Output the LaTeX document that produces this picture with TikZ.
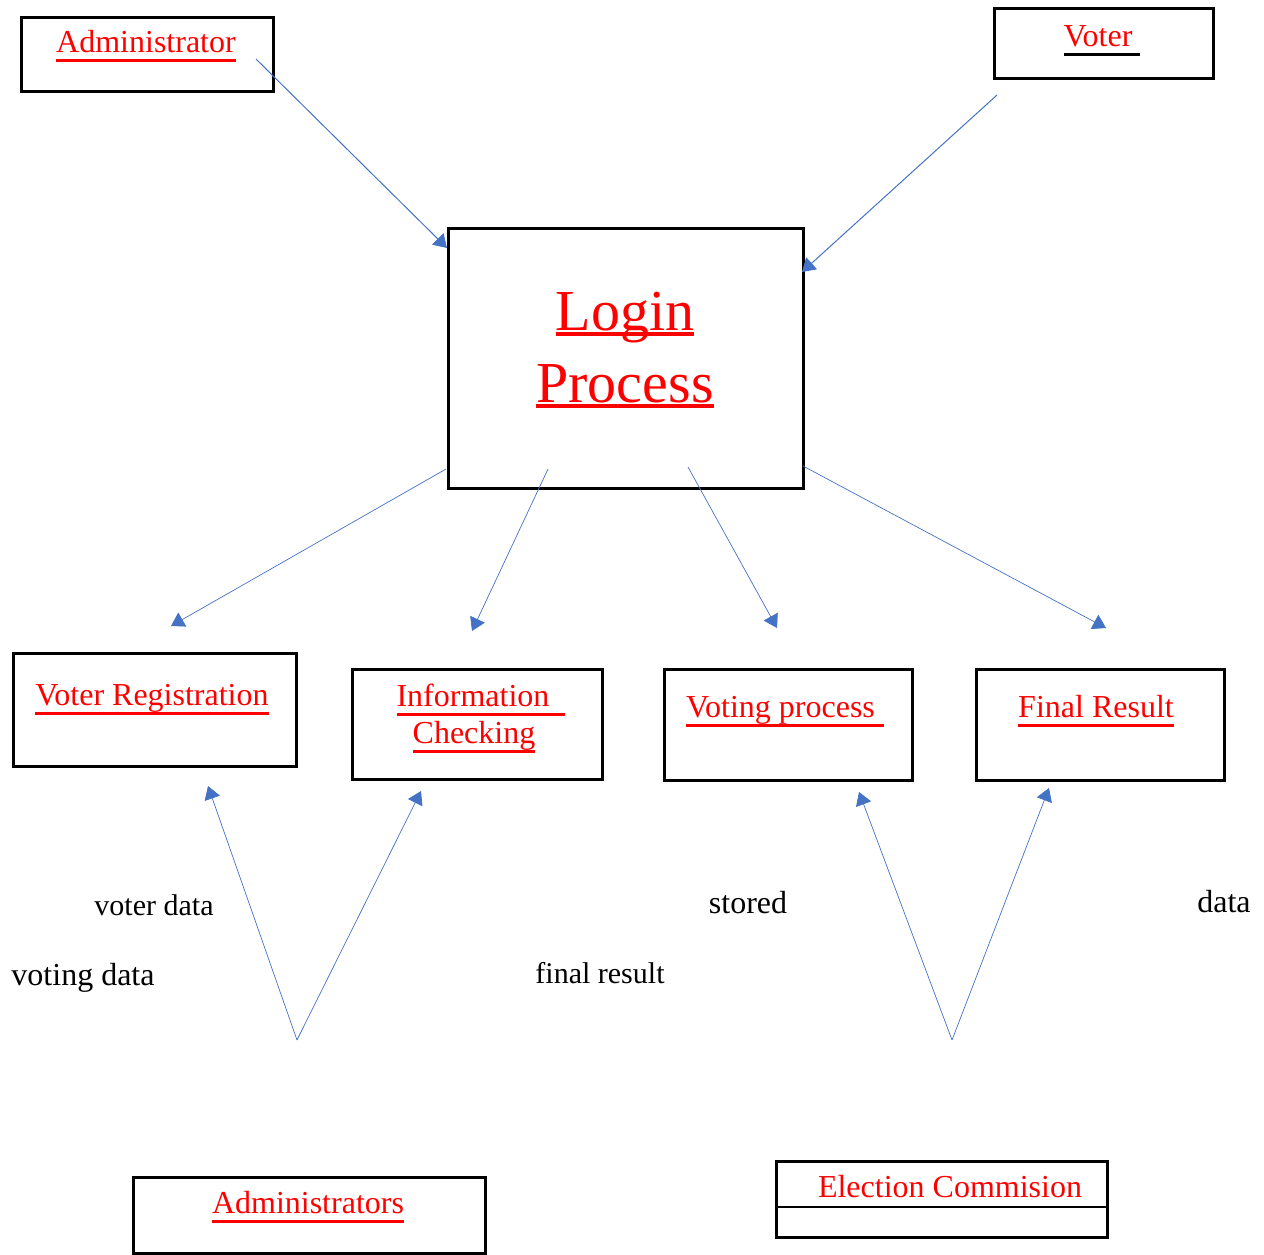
\documentclass[tikz,border=0pt]{standalone}
\usepackage{fontspec}
\setmainfont{Liberation Serif}
\usetikzlibrary{arrows.meta,positioning,calc}
\definecolor{wordblue}{HTML}{4472C4}
\definecolor{wordred}{HTML}{FF0000}
\newsavebox{\ulsave}
% underline: depth, thickness, rule colour, text
\newcommand{\ulbox}[4]{\sbox{\ulsave}{#4}\rlap{\textcolor{#3}{\rule[-#1]{\wd\ulsave}{#2}}}\usebox{\ulsave}}
\newcommand{\redul}[1]{\ulbox{4.8pt}{1.2pt}{wordred}{#1}}
\newcommand{\bigul}[1]{\ulbox{3pt}{2pt}{wordred}{#1}}
\newcommand{\blackul}[1]{\ulbox{4.8pt}{1.2pt}{black}{#1}}

\begin{document}
\begin{tikzpicture}[x=0.5pt,y=-0.5pt,>={Triangle[length=6.5pt,width=8pt]},
  every node/.style={font=\fontsize{16}{19}\selectfont},
  box/.style={draw,line width=1.3pt,inner sep=0pt,anchor=north west},
  ttl/.style={text=wordred,anchor=base,inner sep=0pt},
  note/.style={anchor=base,inner sep=0pt},
  flow/.style={->,wordblue,line width=0.5pt}]
\useasboundingbox (0,0) rectangle (1264,1254);
% boxes
\node[box,minimum width=126pt,minimum height=37pt] (admin) at (20,16) {};
\node[box,minimum width=109.5pt,minimum height=35pt] (voter) at (993,7) {};
\node[box,minimum width=177.5pt,minimum height=130pt] (login) at (447,227) {};
\node[box,minimum width=141.5pt,minimum height=56.5pt] (reg) at (12,652) {};
\node[box,minimum width=125pt,minimum height=55pt] (info) at (351,668) {};
\node[box,minimum width=124pt,minimum height=55.5pt] (voting) at (663,668) {};
\node[box,minimum width=124pt,minimum height=55.5pt] (final) at (975,668) {};
\node[box,minimum width=176pt,minimum height=38pt] (admins) at (132,1176) {};
\node[box,minimum width=165.5pt,minimum height=38pt] (ec) at (775,1160) {};
\draw[line width=1.3pt] (ec.west |- 0,1207) -- (ec.east |- 0,1207);
% titles
\node[ttl] (t-admin) at (146,52) {\redul{Administrator}};
\node[ttl] (t-voter) at (1102,46) {\blackul{Voter\hspace{4pt}}};
\node[ttl,font=\fontsize{29}{34}\selectfont] (t-login) at (625,330) {\bigul{Login}};
\node[ttl,font=\fontsize{29}{34}\selectfont] (t-process) at (625,402) {\bigul{Process}};
\node[ttl] (t-reg) at (152,705) {\redul{Voter Registration}};
\node[ttl] (t-info) at (481,706) {\redul{Information\hphantom{n}}};
\node[ttl] (t-check) at (474,743) {\redul{Checking}};
\node[ttl] (t-voting) at (785,717) {\redul{Voting process\hphantom{i}}};
\node[ttl] (t-final) at (1096,717) {\redul{Final Result}};
\node[ttl] (t-admins) at (308,1213) {\redul{Administrators}};
\node[ttl] (t-ec) at (950,1197) {Election Commision};
% notes
\node[note,font=\fontsize{15}{18}\selectfont] (n-voterdata) at (154,915) {voter data};
\node[note] (n-votingdata) at (83,985) {voting data};
\node[note] (n-stored) at (748,913) {stored};
\node[note,font=\fontsize{15}{18}\selectfont] (n-final) at (600,983) {final result};
\node[note] (n-data) at (1224,912) {data};
% arrow ends
\coordinate (admin-out) at (256,59);
\coordinate (voter-out) at (997,95);
\coordinate (login-a) at (447,248);
\coordinate (login-v) at (802,272);
\coordinate (login-1) at (446,469);
\coordinate (login-2) at (548,469);
\coordinate (login-3) at (688,467);
\coordinate (login-4) at (803,466);
\coordinate (reg-in) at (171,626);
\coordinate (info-in) at (472,631);
\coordinate (voting-in) at (777,628);
\coordinate (final-in) at (1106,628);
\coordinate (admins-out) at (297,1040);
\coordinate (ec-out) at (952,1040);
\coordinate (reg-up) at (208,786);
\coordinate (info-up) at (421,791);
\coordinate (voting-up) at (859,792);
\coordinate (final-up) at (1049,788);
% connectors
\foreach \u/\v in {admin-out/login-a,voter-out/login-v}{\draw[flow] (\u)--(\v);}
\foreach \u/\v in {login-1/reg-in,login-2/info-in,login-3/voting-in,login-4/final-in,admins-out/reg-up,admins-out/info-up,ec-out/voting-up,ec-out/final-up}{\draw[flow,line width=0.35pt] (\u)--(\v);}
\end{tikzpicture}
\end{document}
